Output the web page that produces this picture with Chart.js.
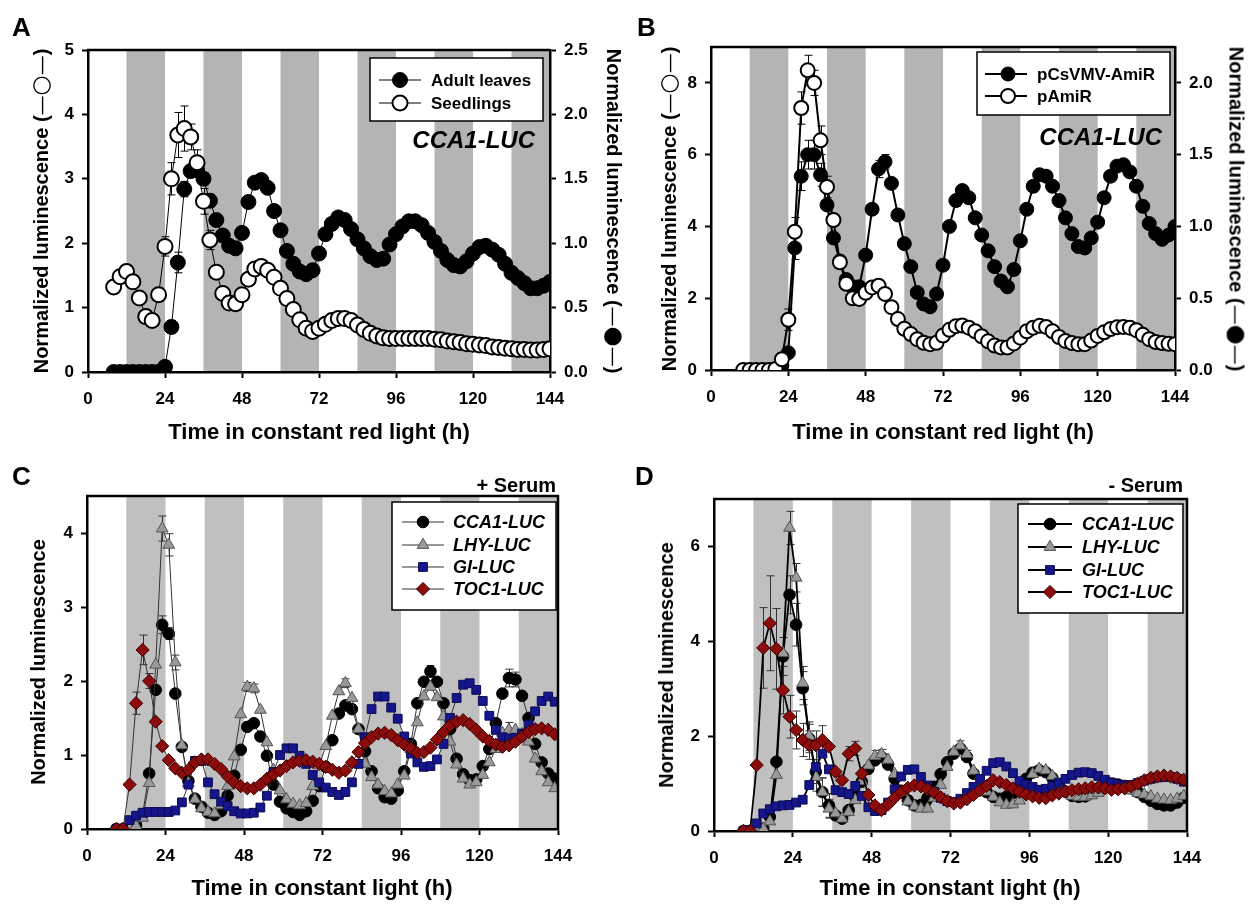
<!DOCTYPE html>
<html>
<head>
<meta charset="utf-8">
<script src="https://cdn.jsdelivr.net/npm/chart.js"></script>
<style>
  body { margin: 0; background: #fff; }
  #page { position: relative; width: 1253px; height: 906px; overflow: hidden; font-family: "Liberation Sans", Arial, sans-serif; }
  canvas { position: absolute; }
  .txt { position: absolute; white-space: nowrap; font-weight: bold; color: #000; line-height: 1; }
  .c { transform: translate(-50%, -50%); }
  .vl { transform: translate(-50%, -50%) rotate(-90deg); }
  .vr { transform: translate(-50%, -50%) rotate(90deg); }
  .sym { font-family: "DejaVu Sans", sans-serif; font-weight: normal; }
  .sym b { font-size: 23px; font-weight: normal; }
</style>
</head>
<body>
<div id="page">
  <canvas id="chartA" width="626" height="450" style="left:0;top:0"></canvas>
  <canvas id="chartB" width="627" height="450" style="left:626px;top:0"></canvas>
  <canvas id="chartC" width="626" height="456" style="left:0;top:450px"></canvas>
  <canvas id="chartD" width="627" height="456" style="left:626px;top:450px"></canvas>

  <div class="txt" style="left:12px;top:14px;font-size:26px">A</div>
  <div class="txt" style="left:637px;top:14px;font-size:26px">B</div>
  <div class="txt" style="left:12px;top:463px;font-size:26px">C</div>
  <div class="txt" style="left:635px;top:463px;font-size:26px">D</div>

  <div class="txt" style="right:718px;top:128px;font-size:24px;font-style:italic">CCA1-LUC</div>
  <div class="txt" style="right:91px;top:125px;font-size:24px;font-style:italic">CCA1-LUC</div>

  <div class="txt" style="right:697px;top:475px;font-size:20px">+ Serum</div>
  <div class="txt" style="right:70px;top:475px;font-size:20px">- Serum</div>

  <div class="txt c" style="left:319px;top:432px;font-size:22px">Time in constant red light (h)</div>
  <div class="txt c" style="left:943px;top:432px;font-size:22px">Time in constant red light (h)</div>
  <div class="txt c" style="left:322px;top:888px;font-size:22px">Time in constant light (h)</div>
  <div class="txt c" style="left:950px;top:888px;font-size:22px">Time in constant light (h)</div>

  <div class="txt vl" style="left:40px;top:211px;font-size:20px">Normalized luminescence (<span class="sym">—<b>○</b>—</span>)</div>
  <div class="txt vr" style="left:614px;top:211px;font-size:20px">Normalized luminescence (<span class="sym">—<b>●</b>—</span>)</div>
  <div class="txt vl" style="left:668px;top:209px;font-size:20px">Normalized luminescence (<span class="sym">—<b>○</b>—</span>)</div>
  <div class="txt vr" style="left:1237px;top:209px;font-size:20px">Normalized luminescence (<span class="sym">—<b>●</b>—</span>)</div>
  <div class="txt vl" style="left:38px;top:662px;font-size:20px">Normalized luminescence</div>
  <div class="txt vl" style="left:666px;top:665px;font-size:20px">Normalized luminescence</div>
</div>

<script>
// subjective night (grey bars), hours
const nightBands = [[12, 24], [36, 48], [60, 72], [84, 96], [108, 120], [132, 144]];

// panel A: red light, adult leaves vs seedlings
const hoursA = [8,10,12,14,16,18,20,22,24,26,28,30,32,34,36,38,40,42,44,46,48,50,52,54,56,58,60,62,64,66,68,70,72,74,76,78,80,82,84,86,88,90,92,94,96,98,100,102,104,106,108,110,112,114,116,118,120,122,124,126,128,130,132,134,136,138,140,142,144];
const adultLeaves = [0,0,0,0,0,0,0,0,0.04,0.35,0.85,1.42,1.56,1.57,1.50,1.33,1.18,1.06,0.98,0.96,1.08,1.32,1.47,1.49,1.43,1.25,1.10,0.94,0.84,0.78,0.76,0.79,0.92,1.07,1.15,1.20,1.18,1.11,1.03,0.96,0.90,0.87,0.88,0.99,1.07,1.13,1.17,1.17,1.14,1.08,1.01,0.94,0.87,0.83,0.82,0.86,0.92,0.97,0.98,0.95,0.91,0.84,0.77,0.73,0.69,0.65,0.65,0.67,0.70];
const seedlings = [1.32,1.48,1.56,1.40,1.15,0.86,0.80,1.20,1.95,3.00,3.68,3.78,3.65,3.25,2.65,2.05,1.55,1.22,1.07,1.06,1.20,1.44,1.60,1.64,1.58,1.47,1.30,1.14,0.97,0.81,0.68,0.63,0.68,0.74,0.80,0.83,0.83,0.80,0.73,0.66,0.60,0.56,0.53,0.52,0.52,0.52,0.52,0.52,0.52,0.52,0.51,0.50,0.48,0.47,0.46,0.44,0.43,0.42,0.41,0.39,0.38,0.37,0.36,0.35,0.35,0.34,0.34,0.35,0.36];
const adultErr = [[26,0.05],[28,0.08],[30,0.06],[32,0.05],[34,0.06],[36,0.05],[38,0.05],[46,0.04],[52,0.04],[54,0.04]];
const seedErr = [[10,0.1],[12,0.1],[14,0.08],[22,0.1],[24,0.15],[26,0.25],[28,0.35],[30,0.35],[32,0.2],[34,0.2],[36,0.2],[38,0.15],[40,0.1],[44,0.08],[46,0.1],[52,0.08],[54,0.08],[56,0.06],[112,0.05],[116,0.05],[120,0.05]];

// panel B: red light, pCsVMV-AmiR vs pAmiR
const hoursB = [10,12,14,16,18,20,22,24,26,28,30,32,34,36,38,40,42,44,46,48,50,52,54,56,58,60,62,64,66,68,70,72,74,76,78,80,82,84,86,88,90,92,94,96,98,100,102,104,106,108,110,112,114,116,118,120,122,124,126,128,130,132,134,136,138,140,142,144];
const pCsVMV = [0,0,0,0,0,0,0.03,0.12,0.85,1.35,1.5,1.5,1.36,1.15,0.92,0.76,0.63,0.58,0.58,0.8,1.12,1.4,1.45,1.3,1.08,0.88,0.72,0.54,0.46,0.44,0.53,0.73,1.0,1.18,1.25,1.2,1.06,0.94,0.83,0.72,0.62,0.58,0.7,0.9,1.12,1.28,1.36,1.35,1.28,1.18,1.06,0.95,0.86,0.85,0.92,1.03,1.2,1.35,1.42,1.43,1.38,1.28,1.14,1.02,0.95,0.91,0.94,1.0];
const pAmiR = [0,0,0,0,0,0.03,0.3,1.4,3.85,7.3,8.35,8.0,6.4,5.1,4.18,3.0,2.4,2.0,1.98,2.15,2.3,2.35,2.12,1.75,1.42,1.15,1.0,0.86,0.76,0.72,0.76,0.96,1.12,1.22,1.24,1.18,1.08,0.94,0.80,0.68,0.63,0.63,0.74,0.9,1.08,1.18,1.23,1.2,1.08,0.92,0.81,0.75,0.72,0.72,0.82,0.95,1.05,1.14,1.19,1.2,1.18,1.11,0.98,0.86,0.78,0.75,0.73,0.72];
const pCsVMVErr = [[26,0.08],[28,0.1],[30,0.1],[32,0.1],[34,0.08],[52,0.06],[54,0.05],[76,0.04],[100,0.04]];
const pAmiRErr = [[24,0.3],[26,0.4],[28,0.45],[30,0.42],[32,0.35],[34,0.4],[36,0.3]];

// panels C and D: constant light, with / without serum
const hoursCD = [9,11,13,15,17,19,21,23,25,27,29,31,33,35,37,39,41,43,45,47,49,51,53,55,57,59,61,63,65,67,69,71,73,75,77,79,81,83,85,87,89,91,93,95,97,99,101,103,105,107,109,111,113,115,117,119,121,123,125,127,129,131,133,135,137,139,141,143];
const cca1Serum = [0,0,0.02,0.05,0.2,0.75,1.88,2.76,2.64,1.83,1.11,0.65,0.41,0.3,0.22,0.19,0.24,0.45,0.72,1.07,1.38,1.43,1.25,0.99,0.6,0.37,0.28,0.23,0.19,0.24,0.38,0.58,0.84,1.2,1.56,1.67,1.62,1.35,1.05,0.78,0.55,0.43,0.41,0.52,0.78,1.15,1.7,1.99,2.13,1.99,1.7,1.35,0.95,0.74,0.66,0.67,0.85,1.08,1.43,1.83,2.04,2.02,1.8,1.5,1.15,0.9,0.75,0.68];
const lhySerum = [0,0,0,0.04,0.15,0.62,2.22,4.06,3.84,2.25,1.13,0.62,0.4,0.28,0.23,0.21,0.32,0.58,0.98,1.55,1.92,1.9,1.61,1.17,0.8,0.52,0.4,0.34,0.32,0.35,0.58,0.86,1.12,1.53,1.86,1.97,1.77,1.35,0.88,0.7,0.6,0.51,0.48,0.6,0.72,1.08,1.44,1.79,1.92,1.78,1.52,1.18,0.87,0.68,0.6,0.63,0.73,0.9,1.08,1.3,1.34,1.34,1.28,1.18,0.95,0.78,0.63,0.55];
const giSerum = [0,0,0.12,0.18,0.22,0.23,0.23,0.23,0.23,0.25,0.36,0.6,0.92,0.92,0.63,0.47,0.37,0.31,0.24,0.21,0.21,0.22,0.29,0.45,0.77,1.0,1.09,1.09,0.99,0.88,0.73,0.63,0.56,0.5,0.46,0.5,0.63,0.88,1.24,1.62,1.79,1.79,1.64,1.49,1.25,1.02,0.9,0.84,0.85,0.94,1.15,1.5,1.77,1.95,1.97,1.88,1.73,1.53,1.34,1.24,1.22,1.23,1.29,1.41,1.59,1.73,1.79,1.72];
const toc1Serum = [0,0,0.6,1.7,2.42,2.0,1.45,1.12,0.93,0.82,0.76,0.8,0.9,0.94,0.94,0.88,0.81,0.71,0.63,0.58,0.55,0.55,0.6,0.68,0.74,0.79,0.85,0.9,0.92,0.93,0.91,0.88,0.84,0.8,0.76,0.79,0.9,1.04,1.16,1.24,1.29,1.3,1.27,1.2,1.14,1.09,1.03,1.04,1.1,1.21,1.31,1.4,1.45,1.47,1.42,1.34,1.25,1.19,1.14,1.11,1.13,1.18,1.25,1.31,1.35,1.36,1.34,1.28];
const cca1NoSerum = [0,0,0.02,0.05,0.3,1.46,3.68,4.98,4.35,3.01,1.95,1.25,0.82,0.54,0.33,0.26,0.44,0.72,1.04,1.31,1.49,1.56,1.4,1.1,0.85,0.65,0.54,0.55,0.7,0.93,1.2,1.45,1.63,1.74,1.56,1.21,0.96,0.82,0.72,0.68,0.72,0.8,0.93,1.1,1.23,1.28,1.24,1.12,0.97,0.83,0.74,0.72,0.73,0.8,0.88,0.97,1.0,0.98,0.95,0.9,0.82,0.72,0.64,0.57,0.54,0.54,0.6,0.7];
const lhyNoSerum = [0,0,0.02,0.05,0.2,1.18,3.75,6.39,5.34,3.12,2.0,1.14,0.82,0.47,0.37,0.26,0.4,0.65,1.05,1.38,1.58,1.62,1.5,1.2,0.82,0.62,0.52,0.47,0.47,0.7,0.97,1.35,1.67,1.8,1.62,1.27,0.99,0.83,0.72,0.6,0.55,0.56,0.64,0.92,1.2,1.31,1.28,1.16,0.98,0.83,0.74,0.72,0.72,0.75,0.8,0.88,0.93,0.93,0.9,0.85,0.8,0.77,0.73,0.68,0.66,0.65,0.68,0.74];
const giNoSerum = [0,0.02,0.16,0.37,0.46,0.52,0.54,0.55,0.6,0.66,0.97,1.35,1.63,1.3,0.86,0.82,0.78,0.95,0.74,0.5,0.42,0.44,0.6,0.88,1.15,1.29,1.3,1.14,0.96,0.83,0.7,0.63,0.61,0.68,0.8,0.93,1.1,1.27,1.43,1.45,1.36,1.22,1.05,0.98,0.93,0.87,0.89,0.95,1.02,1.1,1.18,1.23,1.24,1.22,1.16,1.08,1.02,0.98,0.96,0.97,1.01,1.06,1.1,1.13,1.14,1.14,1.1,1.04];
const toc1NoSerum = [0,0,1.39,3.86,4.38,3.84,2.97,2.41,2.13,1.92,1.81,1.81,1.92,1.78,1.25,1.07,1.63,1.74,1.21,0.76,0.54,0.44,0.56,0.7,0.82,0.91,0.96,0.94,0.88,0.81,0.71,0.63,0.58,0.6,0.67,0.76,0.86,0.95,1.07,1.03,0.97,0.9,0.83,0.77,0.73,0.7,0.69,0.75,0.79,0.83,0.86,0.88,0.9,0.92,0.92,0.9,0.87,0.88,0.9,0.94,1.0,1.07,1.12,1.15,1.17,1.15,1.12,1.08];

const cca1SerumErr = [[23,0.12],[25,0.08],[105,0.08],[129,0.12],[131,0.1]];
const lhySerumErr = [[23,0.17],[25,0.15],[27,0.1],[49,0.06],[51,0.06],[79,0.06],[129,0.1]];
const toc1SerumErr = [[15,0.15],[17,0.2],[19,0.1]];
const cca1NoSerumErr = [[21,0.4],[23,0.4],[25,0.45],[27,0.35],[29,0.3],[31,0.25],[33,0.3],[35,0.25]];
const lhyNoSerumErr = [[23,0.35],[25,0.3],[27,0.35],[29,0.3],[31,0.3],[33,0.3],[35,0.2],[49,0.12],[51,0.1],[75,0.1],[77,0.08]];
const toc1NoSerumErr = [[15,0.85],[17,1.0],[19,0.85],[21,0.5],[23,0.45],[25,0.4],[27,0.35],[29,0.3],[31,0.3],[33,0.3],[41,0.15],[43,0.15]];

const FONT = '"Liberation Sans", Arial, sans-serif';
Chart.defaults.font.family = FONT;

function series(label, times, vals, style) {
  return Object.assign({
    label: label,
    data: times.map((t, i) => ({ x: t, y: vals[i] })),
    showLine: true,
    tension: 0
  }, style);
}

const nightPlugin = {
  id: 'night',
  beforeDraw(chart, args, opts) {
    const { ctx, chartArea: a, scales: { x } } = chart;
    ctx.save();
    ctx.fillStyle = opts.color;
    nightBands.forEach(([s, e]) => {
      const x1 = x.getPixelForValue(s), x2 = x.getPixelForValue(e);
      ctx.fillRect(x1, a.top, x2 - x1, a.bottom - a.top);
    });
    ctx.restore();
  }
};

const errorPlugin = {
  id: 'errBars',
  beforeDatasetsDraw(chart) {
    const ctx = chart.ctx, a = chart.chartArea;
    ctx.save();
    ctx.beginPath();
    ctx.rect(a.left, a.top, a.right - a.left, a.bottom - a.top);
    ctx.clip();
    chart.data.datasets.forEach(ds => {
      if (!ds.errBars) return;
      const xs = chart.scales.x, ys = chart.scales[ds.yAxisID || 'y'];
      ctx.strokeStyle = ds.errColor || '#000';
      ctx.lineWidth = 1;
      ds.errBars.forEach(([t, e]) => {
        const p = ds.data.find(d => d.x === t);
        if (!p) return;
        const px = Math.round(xs.getPixelForValue(t)) + 0.5;
        const y1 = ys.getPixelForValue(p.y + e), y2 = ys.getPixelForValue(p.y - e);
        ctx.beginPath();
        ctx.moveTo(px, y1); ctx.lineTo(px, y2);
        ctx.moveTo(px - 4, y1); ctx.lineTo(px + 4, y1);
        ctx.moveTo(px - 4, y2); ctx.lineTo(px + 4, y2);
        ctx.stroke();
      });
    });
    ctx.restore();
  }
};

const framePlugin = {
  id: 'frame',
  afterDatasetsDraw(chart, args, opts) {
    const { ctx, chartArea: a } = chart;
    ctx.save();
    ctx.strokeStyle = '#000';
    ctx.lineWidth = 2.5;
    ctx.beginPath();
    ctx.moveTo(a.left - 1, a.top);
    ctx.lineTo(a.right, a.top);
    if (opts.right) ctx.lineTo(a.right, a.bottom + 1);
    ctx.stroke();
    ctx.restore();
  }
};

const boxLegendPlugin = {
  id: 'boxLegend',
  afterDraw(chart, args, o) {
    const ctx = chart.ctx;
    const [x1, y1, x2, y2] = o.box;
    ctx.save();
    ctx.fillStyle = '#fff';
    ctx.fillRect(x1, y1, x2 - x1, y2 - y1);
    ctx.strokeStyle = '#000';
    ctx.lineWidth = 1.5;
    ctx.strokeRect(x1, y1, x2 - x1, y2 - y1);
    chart.data.datasets.forEach((ds, i) => {
      const y = o.rows[i];
      ctx.strokeStyle = ds.borderColor;
      ctx.lineWidth = ds.borderWidth;
      ctx.beginPath();
      ctx.moveTo(o.lineX[0], y);
      ctx.lineTo(o.lineX[1], y);
      ctx.stroke();
      ctx.fillStyle = ds.pointBackgroundColor;
      ctx.strokeStyle = ds.pointBorderColor;
      ctx.lineWidth = ds.pointBorderWidth;
      Chart.helpers.drawPoint(ctx, {
        pointStyle: ds.pointStyle, radius: ds.pointRadius, rotation: 0, borderWidth: ds.pointBorderWidth
      }, o.markX, y);
      ctx.fillStyle = '#000';
      ctx.font = o.font;
      ctx.textAlign = 'left';
      ctx.textBaseline = 'middle';
      ctx.fillText(ds.label, o.textX, y + 1);
    });
    ctx.restore();
  }
};

const tickFont = { family: FONT, size: 17, weight: 'bold' };

function axis(opts) {
  return Object.assign({
    type: 'linear',
    grid: { drawOnChartArea: false, drawTicks: true, tickLength: 6, tickWidth: 2, tickColor: '#000' },
    border: { display: true, color: '#000', width: 2.5 }
  }, opts);
}

function xAxis(h) {
  return axis({
    min: 0, max: 144,
    afterFit: s => { s.height = h; },
    ticks: { stepSize: 24, font: tickFont, color: '#000', padding: 11, maxRotation: 0, autoSkip: false }
  });
}

function yAxis(pos, max, step, w, digits) {
  return axis({
    position: pos, min: 0, max: max,
    afterFit: s => { s.width = w; },
    ticks: {
      stepSize: step, includeBounds: false, font: tickFont, color: '#000', padding: 8,
      callback: v => v.toFixed(digits)
    }
  });
}

function makeChart(id, datasets, scales, padding, pluginOpts) {
  return new Chart(document.getElementById(id), {
    type: 'scatter',
    data: { datasets: datasets },
    options: {
      responsive: false,
      animation: false,
      devicePixelRatio: 1,
      layout: { padding: padding },
      scales: scales,
      plugins: Object.assign({ legend: { display: false }, tooltip: { enabled: false } }, pluginOpts)
    },
    plugins: [nightPlugin, errorPlugin, framePlugin, boxLegendPlugin]
  });
}

// ---- A ----
makeChart('chartA', [
  series('Adult leaves', hoursA, adultLeaves, {
    yAxisID: 'y2', borderColor: '#000', borderWidth: 1, pointStyle: 'circle', pointRadius: 7.5,
    pointBackgroundColor: '#000', pointBorderColor: '#000', pointBorderWidth: 1, order: 2, errBars: adultErr
  }),
  series('Seedlings', hoursA, seedlings, {
    yAxisID: 'y', borderColor: '#000', borderWidth: 1, pointStyle: 'circle', pointRadius: 7.5,
    pointBackgroundColor: '#fff', pointBorderColor: '#000', pointBorderWidth: 2, order: 1, errBars: seedErr
  })
], {
  x: xAxis(78),
  y: yAxis('left', 5, 1, 88, 0),
  y2: yAxis('right', 2.5, 0.5, 76, 1)
}, { top: 50, left: 0, right: 0, bottom: 0 }, {
  night: { color: '#b4b4b4' },
  frame: { right: false },
  boxLegend: { box: [370, 58, 543, 121], rows: [80, 103], lineX: [379, 421], markX: 400, textX: 431, font: 'bold 17px ' + FONT }
});

// ---- B ----
makeChart('chartB', [
  series('pCsVMV-AmiR', hoursB, pCsVMV, {
    yAxisID: 'y2', borderColor: '#000', borderWidth: 2, pointStyle: 'circle', pointRadius: 7,
    pointBackgroundColor: '#000', pointBorderColor: '#000', pointBorderWidth: 1, order: 2, errBars: pCsVMVErr
  }),
  series('pAmiR', hoursB, pAmiR, {
    yAxisID: 'y', borderColor: '#000', borderWidth: 2, pointStyle: 'circle', pointRadius: 7,
    pointBackgroundColor: '#fff', pointBorderColor: '#000', pointBorderWidth: 2, order: 1, errBars: pAmiRErr
  })
], {
  x: xAxis(80),
  y: yAxis('left', 9, 2, 85, 0),
  y2: yAxis('right', 2.25, 0.5, 78, 1)
}, { top: 47, left: 0, right: 0, bottom: 0 }, {
  night: { color: '#b4b4b4' },
  frame: { right: false },
  boxLegend: { box: [351, 52, 544, 115], rows: [74, 96], lineX: [359, 401], markX: 382, textX: 411, font: 'bold 17px ' + FONT }
});

// ---- C and D ----
function clockSets(cca1, lhy, gi, toc1, errs, lineW, lineC) {
  return [
    series('CCA1-LUC', hoursCD, cca1, {
      borderColor: lineC, borderWidth: lineW, pointStyle: 'circle', pointRadius: 5.8,
      pointBackgroundColor: '#000', pointBorderColor: '#000', pointBorderWidth: 1, order: 4,
      errBars: errs[0], errColor: '#333'
    }),
    series('LHY-LUC', hoursCD, lhy, {
      borderColor: lineC, borderWidth: lineW, pointStyle: 'triangle', pointRadius: 6.8,
      pointBackgroundColor: '#999999', pointBorderColor: '#555', pointBorderWidth: 1, order: 3,
      errBars: errs[1], errColor: '#333'
    }),
    series('GI-LUC', hoursCD, gi, {
      borderColor: lineC, borderWidth: lineW, pointStyle: 'rect', pointRadius: 6.2,
      pointBackgroundColor: '#16168c', pointBorderColor: '#0a0a55', pointBorderWidth: 1, order: 2
    }),
    series('TOC1-LUC', hoursCD, toc1, {
      borderColor: lineC, borderWidth: lineW, pointStyle: 'rectRot', pointRadius: 6.6,
      pointBackgroundColor: '#8c0b0b', pointBorderColor: '#3a0000', pointBorderWidth: 1, order: 1,
      errBars: errs[2], errColor: '#333'
    })
  ];
}

makeChart('chartC', clockSets(cca1Serum, lhySerum, giSerum, toc1Serum,
  [cca1SerumErr, lhySerumErr, toc1SerumErr], 1, '#333'), {
  x: xAxis(77),
  y: yAxis('left', 4.5, 1, 87, 0)
}, { top: 46, left: 0, right: 68, bottom: 0 }, {
  night: { color: '#c0c0c0' },
  frame: { right: true },
  boxLegend: { box: [392, 52, 556, 160], rows: [72, 95, 117, 139], lineX: [402, 444], markX: 423, textX: 453, font: 'italic bold 18px ' + FONT }
});

makeChart('chartD', clockSets(cca1NoSerum, lhyNoSerum, giNoSerum, toc1NoSerum,
  [cca1NoSerumErr, lhyNoSerumErr, toc1NoSerumErr], 1.8, '#000'), {
  x: xAxis(75),
  y: yAxis('left', 7, 2, 88, 0)
}, { top: 49, left: 0, right: 66, bottom: 0 }, {
  night: { color: '#c0c0c0' },
  frame: { right: true },
  boxLegend: { box: [392, 54, 557, 163], rows: [74, 97, 120, 142], lineX: [402, 446], markX: 424, textX: 456, font: 'italic bold 18px ' + FONT }
});
</script>
</body>
</html>
